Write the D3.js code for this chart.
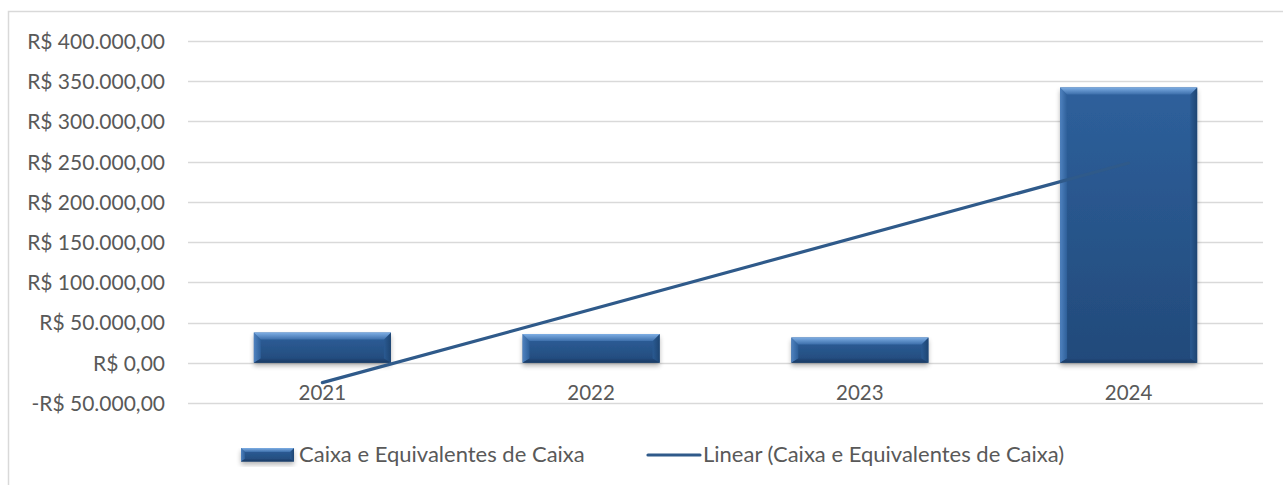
<!DOCTYPE html>
<html><head><meta charset="utf-8">
<script src="https://cdn.jsdelivr.net/npm/d3@7/dist/d3.min.js"></script>
<style>
html,body{margin:0;padding:0;background:#fff;}
svg text{font-family:Lato,"Liberation Sans",sans-serif;fill:#595959;}
</style></head>
<body>
<svg id="chart" width="1283" height="485"></svg>
<script>
const categories = ["2021", "2022", "2023", "2024"];
const values = [37600, 35700, 31500, 342300];
const yTicks = [-50000, 0, 50000, 100000, 150000, 200000, 250000, 300000, 350000, 400000];
const seriesName = "Caixa e Equivalentes de Caixa";
const trendName = "Linear (Caixa e Equivalentes de Caixa)";

const svg = d3.select("#chart");
const W = 1283, H = 485;
const plot = {left: 188, right: 1263, top: 41, bottom: 403};

svg.append("path").attr("d", `M8.5,${H} V11.5 H${W}`).attr("fill", "none").attr("stroke", "#d9d9d9").attr("stroke-width", 1.5);

const x = d3.scaleBand().domain(categories).range([plot.left, plot.right]).paddingInner(0.49).paddingOuter(0.245);
const y = d3.scaleLinear().domain([-50000, 400000]).range([plot.bottom, plot.top]);

const fmt = v => {
  const s = d3.format(",.2f")(Math.abs(v)).replace(/,/g, "#").replace(/\./g, ",").replace(/#/g, ".");
  return (v < 0 ? "-R$ " : "R$ ") + s;
};

svg.append("g").selectAll("line").data(yTicks).join("line")
  .attr("x1", plot.left).attr("x2", plot.right)
  .attr("y1", d => Math.round(y(d)) + 0.5).attr("y2", d => Math.round(y(d)) + 0.5)
  .attr("stroke", "#d9d9d9").attr("stroke-width", 1.5);

const yAxis = d3.axisLeft(y).tickValues(yTicks).tickFormat(fmt).tickSize(0).tickPadding(0);
const gy = svg.append("g").attr("transform", `translate(165,0)`).call(yAxis);
gy.select(".domain").remove();
gy.selectAll("text").attr("font-size", 21).attr("font-family", "Lato").attr("fill", "#595959").attr("dy", "0.35em");

const defs = svg.append("defs");
function vgrad(id, stops, horiz) {
  const g = defs.append("linearGradient").attr("id", id).attr("x1", 0).attr("y1", 0).attr("x2", horiz ? 1 : 0).attr("y2", horiz ? 0 : 1);
  stops.forEach(([o, c]) => g.append("stop").attr("offset", o).attr("stop-color", c));
}
vgrad("barGrad", [["0%", "#2e609c"], ["100%", "#224a7a"]]);
vgrad("topBev", [["0%", "#7eaee4"], ["100%", "#3d6fab"]]);
vgrad("leftBev", [["0%", "#4f82bf"], ["100%", "#2e5f99"]], true);
vgrad("rightBev", [["0%", "#2a5a92"], ["100%", "#1e4572"]], true);
vgrad("botBev", [["0%", "#22487a"], ["100%", "#1a3b63"]]);
const f = defs.append("filter").attr("id", "shadow").attr("x", "-20%").attr("y", "-20%").attr("width", "140%").attr("height", "160%");
f.append("feGaussianBlur").attr("in", "SourceAlpha").attr("stdDeviation", 2.5);
f.append("feOffset").attr("dx", 0).attr("dy", 3).attr("result", "ob");
f.append("feComponentTransfer").append("feFuncA").attr("type", "linear").attr("slope", 0.3);
const m = f.append("feMerge"); m.append("feMergeNode"); m.append("feMergeNode").attr("in", "SourceGraphic");

function bevelBar(g, x0, y0, w, h, b) {
  g.append("rect").attr("x", x0).attr("y", y0).attr("width", w).attr("height", h).attr("fill", "url(#barGrad)").attr("filter", "url(#shadow)");
  const x1 = x0 + w, y1 = y0 + h;
  const bb = Math.min(b, h / 2 - 1);
  const bt = Math.min(b * 0.6, h / 3);
  g.append("path").attr("d", `M${x0},${y0} L${x0+bb},${y0+bb} V${y1-bt} L${x0},${y1} Z`).attr("fill", "url(#leftBev)");
  g.append("path").attr("d", `M${x1},${y0} L${x1-bb},${y0+bb} V${y1-bt} L${x1},${y1} Z`).attr("fill", "url(#rightBev)");
  g.append("path").attr("d", `M${x0},${y1} L${x0+bb},${y1-bt} H${x1-bb} L${x1},${y1} Z`).attr("fill", "url(#botBev)");
  g.append("path").attr("d", `M${x0},${y0} H${x1} L${x1-bb},${y0+bb} H${x0+bb} Z`).attr("fill", "url(#topBev)");
}

const bars = svg.append("g");
categories.forEach((c, i) => {
  const g = bars.append("g");
  const top = y(Math.max(0, values[i])), bot = y(Math.min(0, values[i]));
  bevelBar(g, x(c), top, x.bandwidth(), bot - top, 7);
});

svg.append("g").selectAll("text").data(categories).join("text")
  .attr("x", d => x(d) + x.bandwidth() / 2).attr("y", 400)
  .attr("text-anchor", "middle").attr("font-size", 20.5).text(d => d);

const n = values.length;
const xs = d3.range(1, n + 1);
const mx = d3.mean(xs), my = d3.mean(values);
const slope = d3.sum(xs.map((xi, i) => (xi - mx) * (values[i] - my))) / d3.sum(xs.map(xi => (xi - mx) ** 2));
const icpt = my - slope * mx;
const trend = categories.map((c, i) => ({c, v: icpt + slope * (i + 1)}));
const line = d3.line().x(d => x(d.c) + x.bandwidth() / 2).y(d => y(d.v));
svg.append("path").datum([trend[0], trend[n - 1]]).attr("d", line)
  .attr("fill", "none").attr("stroke", "#2f5a8a").attr("stroke-width", 3.2).attr("stroke-linecap", "round");

const lg = svg.append("g");
bevelBar(lg, 241, 448, 53, 13.5, 4);
lg.append("text").attr("x", 299).attr("y", 462).attr("font-size", 22).text(seriesName);
lg.append("line").attr("x1", 648).attr("x2", 700).attr("y1", 455).attr("y2", 455).attr("stroke", "#2f5a8a").attr("stroke-width", 3.2).attr("stroke-linecap", "round");
lg.append("text").attr("x", 703).attr("y", 462).attr("font-size", 22).text(trendName);
</script>
</body></html>
